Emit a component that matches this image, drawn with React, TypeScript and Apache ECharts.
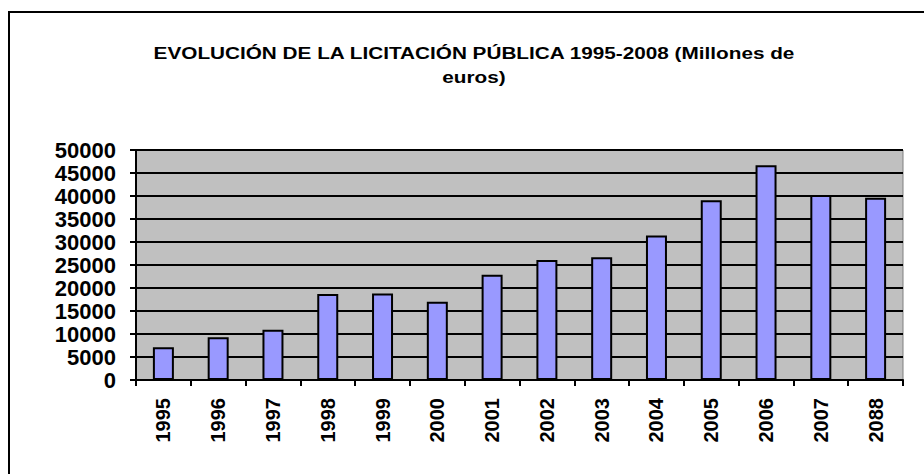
import React, { useEffect, useRef } from "react";
import * as echarts from "echarts";

const titleLines = ["EVOLUCIÓN DE LA LICITACIÓN PÚBLICA 1995-2008 (Millones de", "euros)"];
const years = ["1995", "1996", "1997", "1998", "1999", "2000", "2001", "2002", "2003", "2004", "2005", "2006", "2007", "2088"];
const values = [7100, 9300, 10900, 18700, 18800, 17000, 22900, 26100, 26700, 31400, 39100, 46700, 40200, 39600];
const yMin = 0;
const yMax = 50000;
const yInterval = 5000;

const FONT = "'Liberation Sans', Arial, Helvetica, sans-serif";

export default function App() {
  const ref = useRef<HTMLDivElement>(null);
  useEffect(() => {
    if (!ref.current) return;
    const chart = echarts.init(ref.current, null, { renderer: "svg" });
    chart.setOption({
      animation: false,
      backgroundColor: "#ffffff",
      textStyle: { fontFamily: FONT },
      graphic: [
        {
          type: "rect",
          shape: { x: 9, y: 12, width: 940, height: 480 },
          style: { fill: "none", stroke: "#000", lineWidth: 2 },
          silent: true,
        },
        {
          type: "text",
          x: 474,
          y: 53,
          scaleX: 1.22,
          style: {
            text: titleLines[0],
            fontFamily: FONT,
            fontWeight: "bold",
            fontSize: 17,
            fill: "#000",
            align: "center",
            verticalAlign: "middle",
          },
          silent: true,
        },
        {
          type: "text",
          x: 474,
          y: 77,
          scaleX: 1.22,
          style: {
            text: titleLines[1],
            fontFamily: FONT,
            fontWeight: "bold",
            fontSize: 17,
            fill: "#000",
            align: "center",
            verticalAlign: "middle",
          },
          silent: true,
        },
      ],
      grid: {
        left: 136,
        top: 150,
        right: 21,
        bottom: 94,
        show: true,
        backgroundColor: "#C0C0C0",
        borderColor: "#808080",
        borderWidth: 1,
      },
      xAxis: {
        type: "category",
        data: years,
        boundaryGap: true,
        axisLine: { show: true, lineStyle: { color: "#000", width: 2 } },
        axisTick: { show: true, alignWithLabel: false, length: 6, lineStyle: { color: "#000", width: 2 } },
        axisLabel: {
          rotate: 90,
          margin: 18,
          fontFamily: FONT,
          fontWeight: "bold",
          fontSize: 20,
          color: "#000",
        },
        splitLine: { show: false },
      },
      yAxis: {
        type: "value",
        min: yMin,
        max: yMax,
        interval: yInterval,
        axisLine: { show: true, lineStyle: { color: "#000", width: 2 } },
        axisTick: { show: true, length: 6, lineStyle: { color: "#000", width: 2 } },
        axisLabel: {
          margin: 20,
          fontFamily: FONT,
          fontWeight: "bold",
          fontSize: 22,
          lineHeight: 22,
          color: "#000",
          formatter: (v: number) => String(v),
        },
        splitLine: { show: true, lineStyle: { color: "#000", width: 2 } },
      },
      series: [
        {
          type: "bar",
          data: values,
          barWidth: 21,
          itemStyle: { color: "#9999FF", borderColor: "#000", borderWidth: 2 },
        },
      ],
    });
    return () => chart.dispose();
  }, []);
  return <div ref={ref} style={{ position: "fixed", left: 0, top: 0, width: 924, height: 474 }} />;
}
